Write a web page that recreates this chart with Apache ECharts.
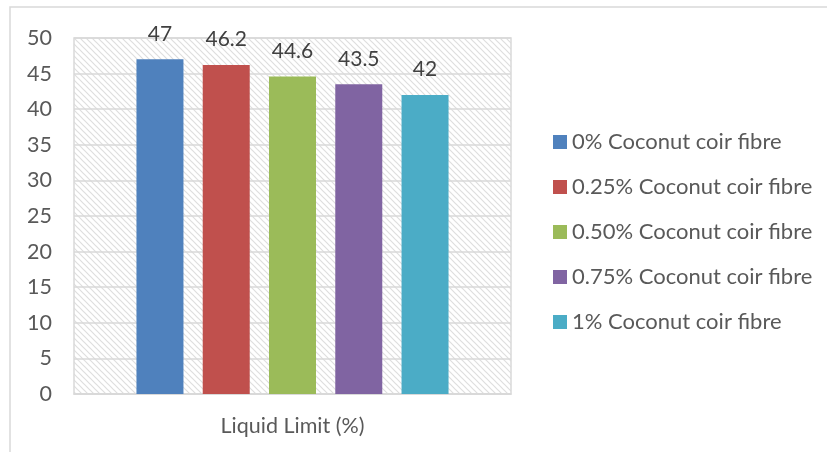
<!DOCTYPE html>
<html>
<head>
<meta charset="utf-8">
<script src="https://cdn.jsdelivr.net/npm/echarts@6/dist/echarts.min.js"></script>
<style>
  html, body { margin: 0; padding: 0; background: #fff; }
  #chart { width: 827px; height: 452px; }
</style>
</head>
<body>
<div id="chart"></div>
<script>
// Chart data
const categories = ['Liquid Limit (%)'];
const seriesNames = [
  '0% Coconut coir fibre',
  '0.25% Coconut coir fibre',
  '0.50% Coconut coir fibre',
  '0.75% Coconut coir fibre',
  '1% Coconut coir fibre'
];
const seriesValues = [47, 46.2, 44.6, 43.5, 42];
const yTicks = [0, 5, 10, 15, 20, 25, 30, 35, 40, 45, 50];

const colors = ['#4f81bd', '#c0504d', '#9bbb59', '#8064a2', '#4bacc6'];
const FONT = 'Lato, "Open Sans", sans-serif';

// Diagonal hatch used as the plot-area background
function hatchPattern() {
  const size = 6;
  const c = document.createElement('canvas');
  c.width = size; c.height = size;
  const g = c.getContext('2d');
  g.fillStyle = '#ffffff';
  g.fillRect(0, 0, size, size);
  g.strokeStyle = '#dedede';
  g.lineWidth = 1.2;
  g.beginPath();
  g.moveTo(0, 0); g.lineTo(size, size);
  g.moveTo(-size, 0); g.lineTo(size, 2 * size);
  g.moveTo(0, -size); g.lineTo(2 * size, size);
  g.stroke();
  return { image: c, repeat: 'repeat' };
}

const chart = echarts.init(document.getElementById('chart'), null, { renderer: 'canvas' });

const series = seriesNames.map((name, i) => ({
  name: name,
  type: 'bar',
  data: [seriesValues[i]],
  barWidth: 47,
  barGap: '41%',
  itemStyle: { color: colors[i] },
  label: {
    show: true,
    position: 'top',
    distance: 15,
    fontFamily: FONT,
    fontSize: 21,
    color: '#404040'
  }
}));

chart.setOption({
  animation: false,
  graphic: [{
    type: 'rect',
    shape: { x: 10, y: 7, width: 830, height: 460 },
    style: { fill: 'none', stroke: '#d9d9d9', lineWidth: 1.5 },
    silent: true,
    z: -1
  }],
  grid: {
    left: 74, right: 316, top: 38, bottom: 58,
    show: true,
    backgroundColor: hatchPattern(),
    borderColor: '#d9d9d9',
    borderWidth: 1.5
  },
  legend: {
    orient: 'vertical',
    left: 553,
    top: 131,
    padding: 0,
    itemWidth: 14,
    itemHeight: 14,
    itemGap: 23,
    icon: 'rect',
    textStyle: { fontFamily: FONT, fontSize: 22, color: '#595959' },
    data: seriesNames
  },
  xAxis: {
    type: 'category',
    data: categories,
    axisLine: { lineStyle: { color: '#d9d9d9', width: 1.5 } },
    axisTick: { show: false },
    axisLabel: {
      margin: 21,
      fontFamily: FONT,
      fontSize: 21.5,
      color: '#595959'
    }
  },
  yAxis: {
    type: 'value',
    min: yTicks[0],
    max: yTicks[yTicks.length - 1],
    interval: yTicks[1] - yTicks[0],
    axisLine: { show: false },
    axisTick: { show: false },
    splitLine: { lineStyle: { color: '#d9d9d9', width: 1.5 } },
    axisLabel: {
      margin: 22,
      fontFamily: FONT,
      fontSize: 21.5,
      color: '#595959'
    }
  },
  series: series
});
</script>
</body>
</html>
